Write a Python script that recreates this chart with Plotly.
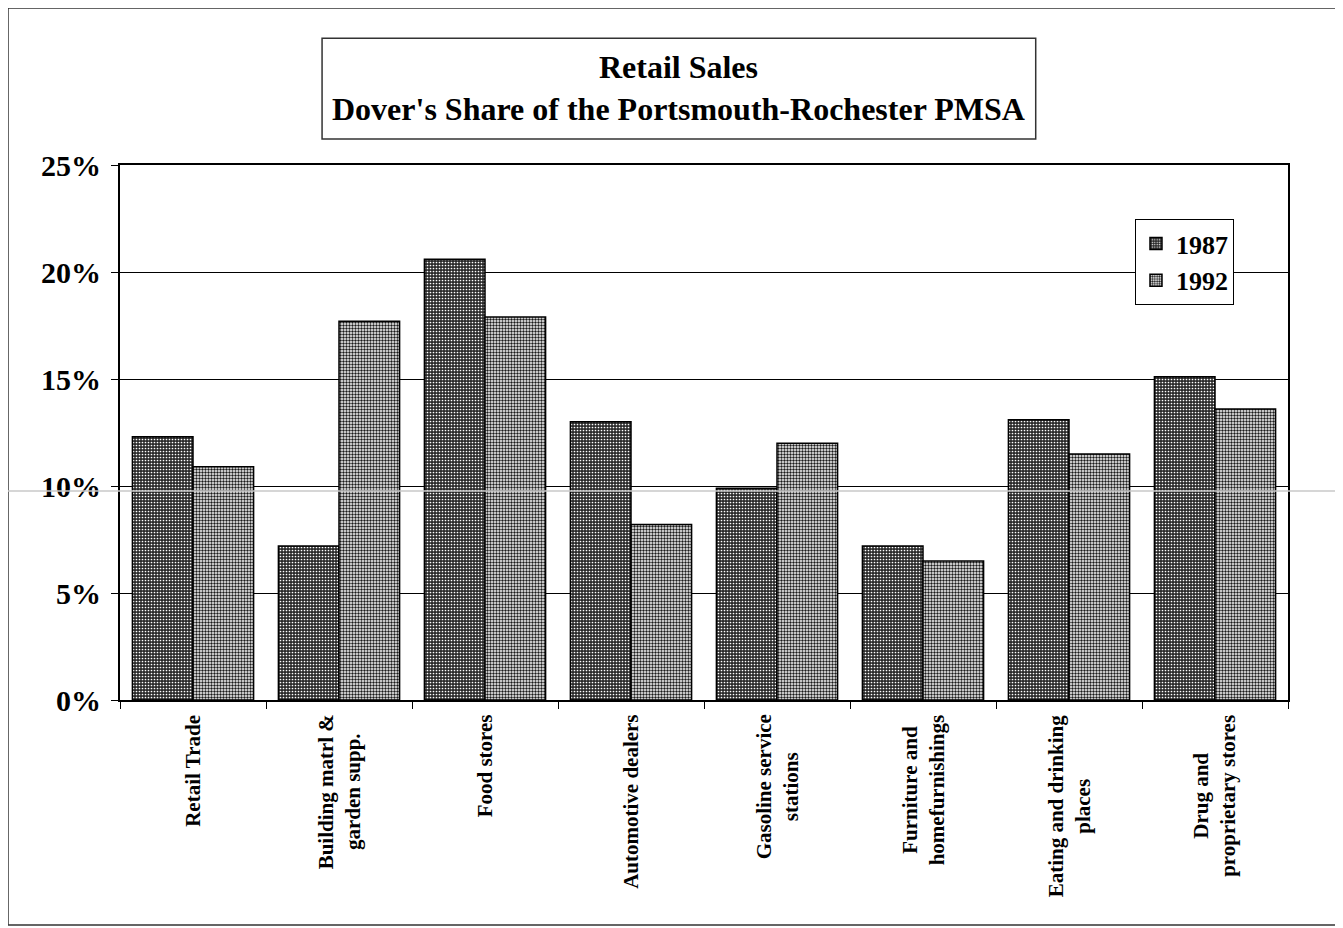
import plotly.graph_objects as go

# Dover's share of PMSA retail sales, in percent
categories = [
    "Retail Trade",
    "Building matrl &<br>garden supp.",
    "Food stores",
    "Automotive dealers",
    "Gasoline service<br>stations",
    "Furniture and<br>homefurnishings",
    "Eating and drinking<br>places",
    "Drug and<br>proprietary stores",
]
share_1987 = [12.3, 7.2, 20.6, 13.0, 9.9, 7.2, 13.1, 15.1]
share_1992 = [10.9, 17.7, 17.9, 8.2, 12.0, 6.5, 11.5, 13.6]
y_ticks = [0, 5, 10, 15, 20, 25]
y_tick_labels = ["0%", "5%", "10%", "15%", "20%", "25%"]

serif = "Liberation Serif"

fig = go.Figure()
fig.add_trace(go.Bar(
    name="1987", x=categories, y=share_1987,
    marker=dict(color="#2a2a2a",
                line=dict(color="black", width=1.5),
                pattern=dict(shape=".", fgcolor="white", bgcolor="#2a2a2a",
                             size=3, solidity=0.25, fillmode="replace")),
))
fig.add_trace(go.Bar(
    name="1992", x=categories, y=share_1992,
    marker=dict(color="white",
                line=dict(color="black", width=1.5),
                pattern=dict(shape=".", fgcolor="#1a1a1a", bgcolor="white",
                             size=3, solidity=0.5, fillmode="replace")),
))

# page body adds an 8px margin, so the figure is 8px smaller each way
fig.update_layout(
    width=1335, height=920,
    margin=dict(l=112, r=55, t=157, b=228),
    paper_bgcolor="white", plot_bgcolor="white",
    barmode="group", bargap=0.17, bargroupgap=0,
    font=dict(family=serif, color="black"),
    showlegend=True,
    legend=dict(x=0.869, y=0.899, xanchor="left", yanchor="top",
                bgcolor="white", bordercolor="black", borderwidth=1,
                font=dict(family=serif, size=26, weight="bold"),
                tracegroupgap=0, itemwidth=30),
)

fig.update_yaxes(
    range=[0, 25], tickvals=y_ticks, ticktext=y_tick_labels,
    tickfont=dict(family=serif, size=30, weight="bold"),
    ticklabelstandoff=4,
    showgrid=True, gridcolor="black", gridwidth=1,
    showline=True, linecolor="black", linewidth=2, mirror=True,
    ticks="outside", ticklen=7, tickcolor="black",
    zeroline=False,
)
fig.update_xaxes(
    showticklabels=False,
    showline=True, linecolor="black", linewidth=2, mirror=True,
    ticks="outside", tickson="boundaries", ticklen=7, tickcolor="black",
)

# rotated category labels, lines centred on each other
for cat in categories:
    fig.add_annotation(xref="x", yref="paper", x=cat, y=-0.024,
                       text=cat, textangle=-90, showarrow=False,
                       xanchor="center", yanchor="top", align="center",
                       font=dict(family=serif, size=21, weight="bold"))

# outer page border
fig.add_shape(type="rect", xref="paper", yref="paper",
              x0=-0.0959, x1=1.0445, y0=-0.4206, y1=1.2935,
              line=dict(color="#333", width=1.5))
# faint scan line across the page
fig.add_shape(type="line", xref="paper", yref="paper",
              x0=-0.11, x1=1.06, y0=0.3907, y1=0.3907,
              line=dict(color="#c8c8c8", width=1.5))
# title box
fig.add_shape(type="rect", xref="paper", yref="paper",
              x0=0.173, x1=0.784, y0=1.0486, y1=1.237,
              line=dict(color="#333", width=1.5), fillcolor="white")
fig.add_annotation(xref="paper", yref="paper", x=0.4785, y=1.143,
                   text="<b>Retail Sales<br>Dover's Share of the Portsmouth-Rochester PMSA</b>",
                   showarrow=False, font=dict(family=serif, size=32),
                   align="center", xanchor="center", yanchor="middle")

fig.write_html("out.html")
